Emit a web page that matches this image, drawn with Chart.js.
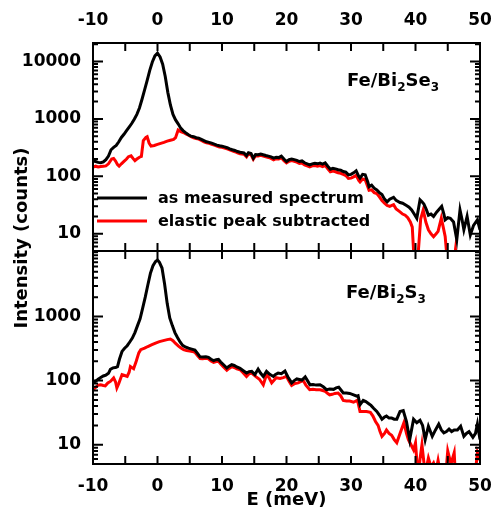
<!DOCTYPE html>
<html>
<head>
<meta charset="utf-8">
<script src="https://cdn.jsdelivr.net/npm/chart.js@4.4.1/dist/chart.umd.min.js"></script>
<style>
    html, body { margin: 0; padding: 0; background: #ffffff; }
    #wrap { width: 492px; height: 520px; }
</style>
</head>
<body>
<div id="wrap"><canvas id="spectraChart" width="492" height="520"></canvas></div>
<script>
// ---- data (E in meV, intensity in counts) ----
var seriesLabels = ['as measured spectrum', 'elastic peak subtracted'];
var panelLabels = [['Fe/Bi', '2', 'Se', '3'], ['Fe/Bi', '2', 'S', '3']];
var xTicks = [-10, 0, 10, 20, 30, 40, 50];
var yTopTicks = [10, 100, 1000, 10000];
var yBotTicks = [10, 100, 1000];

// Fe/Bi2Se3, as measured
var topMeasE = [-10, -9.6, -9.2, -8.8, -8.4, -8, -7.6, -7.2, -6.8, -6.4, -6, -5.6, -5.2, -4.8, -4.4, -4, -3.6, -3.2, -2.8, -2.4,
    -2, -1.6, -1.2, -0.8, -0.4, 0, 0.4, 0.8, 1.2, 1.6, 2, 2.4, 2.8, 3.2, 3.6, 4, 4.4, 4.8, 5.2, 5.6,
    6, 6.4, 6.8, 7.2, 7.6, 8, 8.4, 8.8, 9.2, 9.6, 10, 10.4, 10.8, 11.2, 11.6, 12, 12.4, 12.8, 13.4, 13.8,
    14.1, 14.5, 14.85, 15.2, 15.6, 16, 16.4, 16.8, 17.2, 17.6, 18, 18.4, 18.8, 19.2, 19.6, 20, 20.4, 20.8, 21.2, 21.6,
    22, 22.4, 22.8, 23.2, 23.6, 24, 24.4, 24.8, 25.2, 25.6, 26, 26.4, 26.8, 27.2, 27.6, 28, 28.4, 28.8, 29.2, 29.6,
    30, 30.4, 30.8, 31.2, 31.4, 31.8, 32.2, 32.6, 32.8, 33.2, 33.6, 34, 34.4, 34.8, 35.2, 35.6, 36, 36.6, 37, 37.6,
    38, 38.6, 39, 39.4, 39.8, 40.2, 40.7, 41, 41.3, 41.7, 42, 42.4, 42.8, 43.3, 43.7, 44.06, 44.4, 44.6, 45, 45.4,
    45.9, 46.4, 46.9, 47.2, 47.5, 48, 48.5, 49, 49.6, 50];
var topMeas = [185, 181, 175, 172, 178, 195, 225, 290, 320, 345, 400, 475, 540, 625, 720, 830, 990, 1200, 1550, 2200,
    3200, 4700, 7000, 9800, 12500, 14000, 12000, 9000, 5500, 2900, 1750, 1200, 960, 820, 690, 620, 570, 530, 500, 490,
    470, 462, 440, 420, 400, 390, 378, 365, 350, 340, 335, 325, 315, 300, 290, 282, 270, 262, 255, 230,
    258, 250, 207, 240, 238, 245, 237, 230, 225, 218, 207, 215, 212, 225, 200, 181, 195, 200, 195, 190,
    181, 185, 172, 165, 158, 165, 168, 165, 170, 163, 172, 150, 133, 138, 135, 130, 128, 121, 118, 106,
    108, 115, 125, 100, 93, 108, 106, 80, 66, 70, 62, 58, 52, 48, 40, 36, 40, 43, 38, 35,
    34, 31, 29, 26, 22, 18.6, 39, 36, 33, 26, 21, 22, 20, 24, 27, 30, 22, 17.5, 19, 18.6,
    16, 7.9, 26, 18, 11.7, 20, 9.5, 14, 17.5, 11.7];

// Fe/Bi2Se3, elastic peak subtracted
var topSubE = [-10, -9.6, -9.2, -8.8, -8.4, -8, -7.6, -7.1, -6.8, -6.5, -6.2, -5.95, -5.6, -5.2, -4.8, -4.5, -4.1, -3.8, -3.5, -3.2,
    -2.8, -2.5, -2.2, -1.8, -1.6, -1.3, -1, -0.5, 0, 0.5, 1, 1.5, 2, 2.5, 2.8, 3.2, 3.6, 4, 4.4, 4.8,
    5.2, 5.6, 6, 6.4, 6.8, 7.2, 7.6, 8, 8.4, 8.8, 9.2, 9.6, 10, 10.4, 10.8, 11.2, 11.6, 12, 12.4, 12.8,
    13.4, 13.8, 14.1, 14.5, 14.85, 15.2, 15.6, 16, 16.4, 16.8, 17.2, 17.6, 18, 18.4, 18.8, 19.2, 19.6, 20, 20.4, 20.8,
    21.2, 21.6, 22, 22.4, 22.8, 23.2, 23.6, 24, 24.4, 24.8, 25.2, 25.6, 26, 26.4, 26.8, 27.2, 27.6, 28, 28.4, 28.8,
    29.2, 29.6, 30, 30.4, 30.8, 31.2, 31.4, 31.8, 32.2, 32.6, 32.8, 33.2, 33.6, 34, 34.4, 34.8, 35.2, 35.6, 36, 36.6,
    37, 37.6, 38, 38.4, 38.8, 39.2, 39.5, 39.9, 40.3, 40.8, 41.2, 41.6, 42, 42.4, 42.8, 43.2, 43.5, 44, 44.3, 44.6,
    45.1, 45.6, 46.2, 46.6, 47.5, 48.5, 49.5, 50];
var topSub = [145, 150, 145, 148, 150, 152, 165, 200, 205, 185, 160, 150, 165, 182, 200, 220, 228, 205, 188, 200,
    215, 222, 420, 475, 490, 380, 335, 345, 360, 375, 390, 410, 425, 440, 470, 640, 600, 580, 550, 520,
    490, 470, 455, 445, 420, 400, 385, 375, 362, 350, 337, 325, 320, 310, 300, 288, 277, 268, 257, 248,
    242, 218, 245, 237, 198, 228, 226, 232, 225, 218, 213, 205, 194, 203, 200, 210, 188, 172, 183, 188,
    183, 177, 168, 171, 158, 152, 146, 152, 154, 150, 154, 147, 155, 135, 120, 123, 120, 115, 113, 108,
    103, 92, 93, 98, 104, 85, 80, 90, 87, 66, 57, 58, 52, 50, 44, 38, 34, 31, 30, 32,
    27, 24, 22, 21, 19, 16, 13, 2, 3, 18, 26, 16, 11.7, 10, 8.9, 10, 11, 18.6, 13, 9,
    2, 1.5, 5.3, 2, 1.5, 2, 1.5, 2];

// Fe/Bi2S3, as measured
var botMeasE = [-10, -9.6, -9.2, -8.8, -8.4, -8, -7.6, -7.3, -6.9, -6.5, -6.2, -5.9, -5.5, -5.1, -4.7, -4.3, -3.9, -3.5, -3.1, -2.7,
    -2.3, -1.9, -1.5, -1.1, -0.7, -0.3, 0, 0.3, 0.7, 1.1, 1.5, 1.9, 2.3, 2.7, 3.1, 3.5, 3.9, 4.3, 4.8, 5.3,
    5.8, 6.2, 6.6, 7, 7.5, 7.9, 8.3, 8.7, 9.1, 9.45, 9.8, 10.2, 10.75, 11.1, 11.5, 11.9, 12.3, 12.8, 13.2, 13.8,
    14.2, 14.6, 15.1, 15.6, 16, 16.4, 16.9, 17.4, 17.96, 18.3, 18.7, 19.2, 19.76, 20.2, 20.8, 21.2, 21.6, 22, 22.4, 22.9,
    23.3, 23.64, 24.1, 24.6, 25.2, 25.7, 26.2, 26.7, 27.3, 27.7, 28.1, 28.5, 28.8, 29.3, 29.8, 30.4, 30.9, 31.1, 31.4, 31.9,
    32.3, 32.7, 33.1, 33.5, 34, 34.4, 34.8, 35.2, 35.5, 35.9, 36.3, 36.7, 37.1, 37.6, 38.1, 38.6, 39.1, 39.7, 40.2, 40.7,
    41.1, 41.5, 42, 42.6, 43.1, 43.6, 44, 44.4, 44.8, 45.2, 45.6, 46, 46.5, 47, 47.5, 47.9, 48.3, 48.9, 49.3, 49.6, 50];
var botMeas = [95, 97, 105, 112, 118, 122, 130, 150, 158, 160, 165, 215, 285, 320, 350, 400, 460, 560, 720, 920,
    1350, 2000, 3100, 4700, 6200, 7200, 7600, 7000, 5700, 3200, 1600, 950, 720, 560, 470, 400, 355, 335, 320, 310,
    300, 265, 235, 233, 235, 230, 215, 205, 212, 214, 195, 178, 157, 168, 177, 172, 163, 155, 145, 131,
    138, 139, 124, 151, 130, 116, 139, 125, 116, 125, 131, 128, 141, 115, 92, 100, 106, 104, 102, 114,
    98, 86, 87, 85, 86, 80, 72, 74, 73, 77, 79, 70, 64, 64, 63, 60, 57, 58, 42, 49,
    47, 44, 41, 37, 33, 29, 25, 27, 28, 26, 26, 25, 25, 33, 34, 23, 12, 25, 22, 24,
    20, 12, 19.4, 13.5, 17, 21, 17, 15.3, 16, 17.5, 16, 17, 17, 19.4, 13.5, 15, 16, 13, 15, 21, 12];

// Fe/Bi2S3, elastic peak subtracted
var botSubE = [-10, -9.6, -9.2, -8.8, -8.4, -8.1, -7.7, -7.3, -6.8, -6.5, -6.3, -6, -5.5, -5.1, -4.7, -4.4, -4.2, -3.9, -3.7, -3.3,
    -2.9, -2.6, -2, -1.5, -0.86, -0.3, 0.3, 0.9, 1.5, 2, 2.4, 2.8, 3.3, 3.7, 4.05, 4.5, 5, 5.4, 5.8, 6.2,
    6.6, 7, 7.5, 7.9, 8.3, 8.7, 9.1, 9.45, 9.8, 10.2, 10.75, 11.1, 11.5, 11.9, 12.3, 12.8, 13.2, 13.8, 14.2, 14.6,
    15.3, 15.8, 16.4, 16.9, 17.3, 17.7, 18.4, 19, 19.5, 20, 20.4, 20.8, 21.3, 21.8, 22.2, 22.6, 23, 23.6, 24.1, 24.6,
    25.2, 25.6, 26, 26.4, 26.7, 27.1, 27.5, 28, 28.4, 28.8, 29.3, 29.8, 30.4, 30.9, 31.1, 31.4, 31.9, 32.4, 33, 33.4,
    33.8, 34.2, 34.5, 34.8, 35.2, 35.5, 35.9, 36.3, 36.7, 37.1, 37.6, 38.2, 38.6, 38.9, 39.3, 39.7, 40, 40.4, 40.7, 41,
    41.5, 42, 42.4, 42.8, 43.2, 43.5, 44, 44.5, 45, 45.5, 46, 46.3, 47, 48, 49, 49.6, 50];
var botSub = [72, 78, 85, 86, 84, 83, 92, 97, 110, 95, 77, 90, 124, 120, 116, 135, 166, 158, 153, 200,
    270, 303, 320, 340, 363, 385, 405, 420, 435, 445, 420, 380, 341, 320, 303, 295, 290, 285, 275, 245,
    220, 219, 222, 218, 202, 192, 198, 200, 182, 165, 145, 155, 165, 160, 152, 148, 135, 116, 128, 131,
    114, 105, 86, 124, 110, 92, 111, 108, 111, 116, 98, 84, 90, 92, 96, 100, 85, 72, 73, 72,
    72, 70, 68, 63, 60, 61, 63, 64, 58, 49, 48, 48, 46, 49, 45, 33, 33, 33, 32, 28,
    23, 20, 16, 13.5, 15, 17, 15, 14, 12, 10.7, 15, 22, 15, 12, 10, 8.3, 10.7, 3, 6, 10,
    3.5, 6.2, 4.5, 5.2, 4, 5.7, 3, 2, 8, 5, 7.5, 2, 2.5, 2, 2, 7.5, 5.7];

function toPoints(es, vals) {
    return es.map(function (e, i) {
        return { x: e, y: vals[i] };
    });
}

var FONT = 'DejaVu Sans';

function lineSet(label, es, vals, color, yId) {
    return {
        label: label,
        data: toPoints(es, vals),
        xAxisID: 'x',
        yAxisID: yId,
        borderColor: color,
        backgroundColor: color,
        borderWidth: 3,
        pointRadius: 0,
        tension: 0,
        fill: false
    };
}

function drawChem(ctx, parts, x, y) {
    parts.forEach(function (txt, i) {
        var sub = i % 2 === 1;
        ctx.font = 'bold ' + (sub ? 12 : 18) + 'px "' + FONT + '"';
        ctx.fillText(txt, x, sub ? y + 5 : y);
        x += ctx.measureText(txt).width;
    });
}

var framePlugin = {
    id: 'panelFrame',
    afterDraw: function (chart) {
        var ctx = chart.ctx;
        var xs = chart.scales.x;
        var area = chart.chartArea;
        ctx.save();
        ctx.strokeStyle = '#000';
        ctx.fillStyle = '#000';
        ctx.lineWidth = 2;

        [chart.scales.yTop, chart.scales.yBot].forEach(function (ys, p) {
            var majors = p === 0 ? yTopTicks : yBotTicks;
            ctx.strokeRect(xs.left, ys.top, xs.right - xs.left, ys.bottom - ys.top);
            ctx.beginPath();
            // x ticks every 5 meV, inward on both edges of the panel
            for (var e = xTicks[0]; e <= xTicks[xTicks.length - 1]; e += 5) {
                var px = xs.getPixelForValue(e);
                ctx.moveTo(px, ys.top);
                ctx.lineTo(px, ys.top + 8);
                ctx.moveTo(px, ys.bottom);
                ctx.lineTo(px, ys.bottom - 8);
            }
            // log ticks, major and minor, inward on left and right
            for (var d = 0; d <= 4; d++) {
                for (var m = 1; m <= 9; m++) {
                    var v = m * Math.pow(10, d);
                    if (v < ys.min || v > ys.max) continue;
                    var len = majors.indexOf(v) >= 0 ? 10 : 5;
                    var py = ys.getPixelForValue(v);
                    ctx.moveTo(xs.left, py);
                    ctx.lineTo(xs.left + len, py);
                    ctx.moveTo(xs.right, py);
                    ctx.lineTo(xs.right - len, py);
                }
            }
            ctx.stroke();
        });

        // panel labels
        ctx.textAlign = 'left';
        ctx.textBaseline = 'alphabetic';
        drawChem(ctx, panelLabels[0], area.left + 254, chart.scales.yTop.top + 43);
        drawChem(ctx, panelLabels[1], area.left + 253, chart.scales.yBot.top + 47);

        // legend
        ctx.font = 'bold 16px "' + FONT + '"';
        ctx.textBaseline = 'middle';
        [0, 2].forEach(function (di, row) {
            var ds = chart.data.datasets[di];
            var ly = chart.scales.yTop.top + 155 + row * 23;
            ctx.strokeStyle = ds.borderColor;
            ctx.lineWidth = 3;
            ctx.beginPath();
            ctx.moveTo(area.left + 4, ly);
            ctx.lineTo(area.left + 54, ly);
            ctx.stroke();
            ctx.fillStyle = '#000';
            ctx.fillText(ds.label, area.left + 65, ly + 1);
        });

        // shared y title
        ctx.translate(22, 238);
        ctx.rotate(-Math.PI / 2);
        ctx.textAlign = 'center';
        ctx.font = 'bold 18px "' + FONT + '"';
        ctx.fillText('Intensity (counts)', 0, 0);
        ctx.restore();
    }
};

var tickFont = { family: FONT, weight: 'bold', size: 17 };

function fitHorizontal(h) {
    return function (scale) {
        scale.height = h;
        scale.paddingLeft = 0;
        scale.paddingRight = 0;
    };
}

var spectraChart = new Chart(document.getElementById('spectraChart').getContext('2d'), {
    type: 'line',
    data: {
        datasets: [
            lineSet(seriesLabels[0], topMeasE, topMeas, '#000000', 'yTop'),
            lineSet(seriesLabels[0], botMeasE, botMeas, '#000000', 'yBot'),
            lineSet(seriesLabels[1], topSubE, topSub, '#ff0000', 'yTop'),
            lineSet(seriesLabels[1], botSubE, botSub, '#ff0000', 'yBot')
        ]
    },
    options: {
        responsive: false,
        animation: false,
        devicePixelRatio: 1,
        layout: { padding: { left: 0, right: 12, top: 0, bottom: 0 } },
        plugins: {
            legend: { display: false },
            tooltip: { enabled: false }
        },
        scales: {
            x: {
                type: 'linear',
                position: 'bottom',
                min: -10,
                max: 50,
                grid: { display: false, drawTicks: false },
                border: { display: false },
                afterBuildTicks: function (axis) {
                    axis.ticks = xTicks.map(function (v) { return { value: v }; });
                },
                ticks: {
                    font: tickFont,
                    color: '#000',
                    padding: 12,
                    maxRotation: 0,
                    autoSkip: false,
                    callback: function (v) { return String(v); }
                },
                title: {
                    display: true,
                    text: 'E (meV)',
                    color: '#000',
                    font: { family: FONT, weight: 'bold', size: 18 },
                    padding: { top: 0, bottom: 9 }
                },
                afterFit: fitHorizontal(56)
            },
            xTop: {
                type: 'linear',
                position: 'top',
                min: -10,
                max: 50,
                grid: { display: false, drawTicks: false },
                border: { display: false },
                afterBuildTicks: function (axis) {
                    axis.ticks = xTicks.map(function (v) { return { value: v }; });
                },
                ticks: {
                    font: tickFont,
                    color: '#000',
                    padding: 12,
                    maxRotation: 0,
                    autoSkip: false,
                    callback: function (v) { return String(v); }
                },
                afterFit: fitHorizontal(43)
            },
            yTop: {
                type: 'logarithmic',
                position: 'left',
                stack: 'panels',
                stackWeight: 208,
                weight: 2,
                min: 5,
                max: 21000,
                grid: { display: false, drawTicks: false },
                border: { display: false },
                afterBuildTicks: function (axis) {
                    axis.ticks = yTopTicks.map(function (v) { return { value: v }; });
                },
                ticks: {
                    font: tickFont,
                    color: '#000',
                    padding: 12,
                    autoSkip: false,
                    callback: function (v) { return String(v); }
                },
                afterFit: function (scale) { scale.width = 93; }
            },
            yBot: {
                type: 'logarithmic',
                position: 'left',
                stack: 'panels',
                stackWeight: 213,
                weight: 1,
                min: 5,
                max: 10500,
                grid: { display: false, drawTicks: false },
                border: { display: false },
                afterBuildTicks: function (axis) {
                    axis.ticks = yBotTicks.map(function (v) { return { value: v }; });
                },
                ticks: {
                    font: tickFont,
                    color: '#000',
                    padding: 12,
                    autoSkip: false,
                    callback: function (v) { return String(v); }
                },
                afterFit: function (scale) { scale.width = 93; }
            }
        }
    },
    plugins: [framePlugin]
});
</script>
</body>
</html>
